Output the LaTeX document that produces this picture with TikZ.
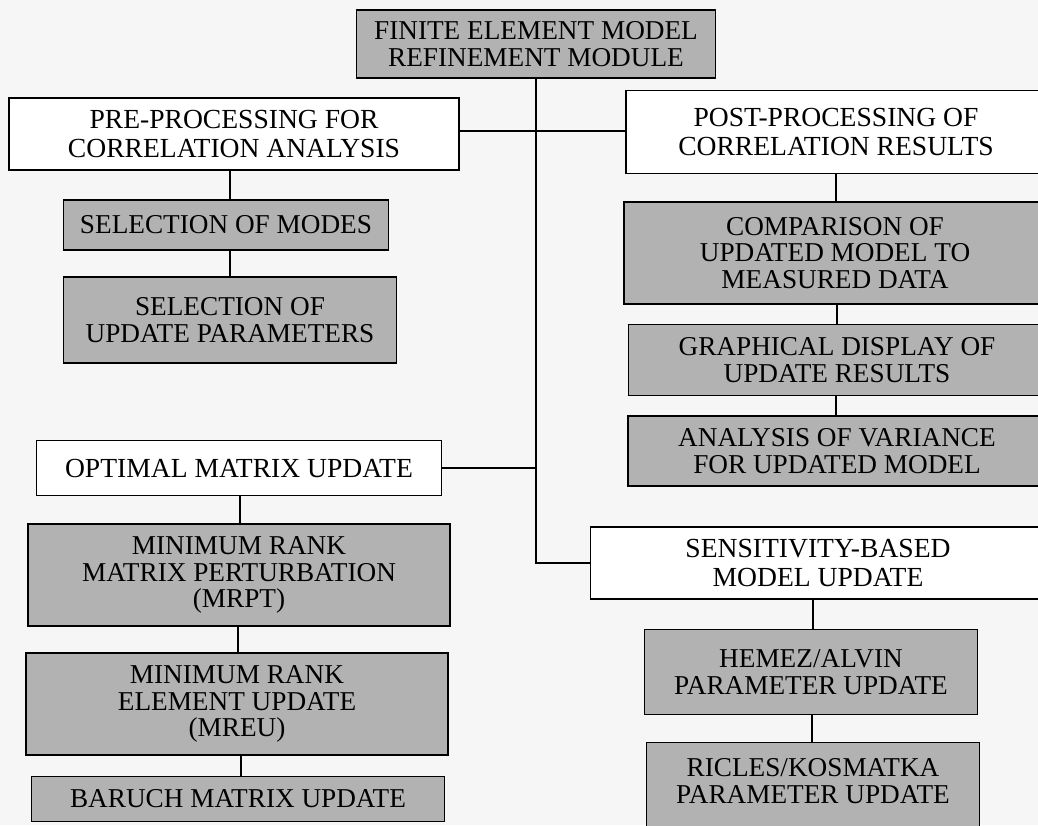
\documentclass[tikz,border=0pt]{standalone}
\usepackage{fontspec}
\setmainfont{Liberation Serif}
\definecolor{paper}{RGB}{246,246,246}
\definecolor{shadegray}{RGB}{178,178,178}
\begin{document}
\begin{tikzpicture}[x=0.02cm,y=-0.02cm,
    box/.style={draw,line width=1pt,fill=white,align=center,inner sep=0pt,
      font=\fontsize{15.7}{16.5}\selectfont},
    shade/.style={box,fill=shadegray,font=\fontsize{15.5}{15.3}\selectfont},
    link/.style={line width=1pt}]
        \useasboundingbox (0,0) rectangle (1038,825);
        \fill[paper] (0,0) rectangle (1038,825);
        \clip (0,0) rectangle (1038,825);
        % top
        \node[shade,minimum width=7.18cm,minimum height=1.36cm] (fem) at (536,44) {FINITE ELEMENT MODEL\\REFINEMENT MODULE};
        % left column
        \node[box,minimum width=9cm,minimum height=1.44cm] (pre) at (234,134) {PRE-PROCESSING FOR\\CORRELATION ANALYSIS};
        \node[shade,minimum width=6.5cm,minimum height=1cm] (modes) at (226,225) {SELECTION OF MODES};
        \node[shade,minimum width=6.66cm,minimum height=1.72cm] (params) at (230,320) {SELECTION OF\\UPDATE PARAMETERS};
        \node[box,minimum width=8.1cm,minimum height=1.1cm] (optimal) at (239,468) {OPTIMAL MATRIX UPDATE};
        \node[shade,minimum width=8.44cm,minimum height=2.04cm] (mrpt) at (239,575) {MINIMUM RANK\\MATRIX PERTURBATION\\(MRPT)};
        \node[shade,minimum width=8.44cm,minimum height=2.04cm] (mreu) at (237,704) {MINIMUM RANK\\ELEMENT UPDATE\\(MREU)};
        \node[shade,minimum width=8.26cm,minimum height=0.9cm] (baruch) at (238,799) {BARUCH MATRIX UPDATE};
        % right column
        \node[box,minimum width=8.4cm,minimum height=1.66cm] (post) at (836,132) {POST-PROCESSING OF\\CORRELATION RESULTS};
        \node[shade,minimum width=8.44cm,minimum height=2.04cm] (compare) at (835,253) {COMPARISON OF\\UPDATED MODEL TO\\MEASURED DATA};
        \node[shade,minimum width=8.34cm,minimum height=1.42cm] (display) at (837,360) {GRAPHICAL DISPLAY OF\\UPDATE RESULTS};
        \node[shade,minimum width=8.36cm,minimum height=1.4cm] (variance) at (837,451) {ANALYSIS OF VARIANCE\\FOR UPDATED MODEL};
        \node[box,minimum width=9.1cm,minimum height=1.44cm] (sens) at (818,563) {SENSITIVITY-BASED\\MODEL UPDATE};
        \node[shade,minimum width=6.66cm,minimum height=1.7cm] (hemez) at (811,672) {HEMEZ/ALVIN\\PARAMETER UPDATE};
        \node[shade,minimum width=6.66cm,minimum height=1.94cm,text depth=0.4cm] (ricles) at (813,791) {RICLES/KOSMATKA\\PARAMETER UPDATE};
        % connectors
        \draw[link] (fem.south) |- (sens.west);
        \draw[link] (pre.east |- 0,131) -- (post.west |- 0,131);
        \draw[link] (optimal.east) -- (optimal.east -| fem.south);
        \draw[link] (pre.south -| 230,0) -- (modes.north -| 230,0);
        \draw[link] (modes.south -| 230,0) -- (params.north -| 230,0);
        \draw[link] (optimal.south -| 240,0) -- (mrpt.north -| 240,0);
        \draw[link] (mrpt.south -| 238,0) -- (mreu.north -| 238,0);
        \draw[link] (mreu.south -| 241,0) -- (baruch.north -| 241,0);
        \draw[link] (post.south -| 836,0) -- (compare.north -| 836,0);
        \draw[link] (compare.south -| 837,0) -- (display.north -| 837,0);
        \draw[link] (display.south -| 836,0) -- (variance.north -| 836,0);
        \draw[link] (sens.south -| 813,0) -- (hemez.north -| 813,0);
        \draw[link] (hemez.south -| 812,0) -- (ricles.north -| 812,0);
\end{tikzpicture}
\end{document}
